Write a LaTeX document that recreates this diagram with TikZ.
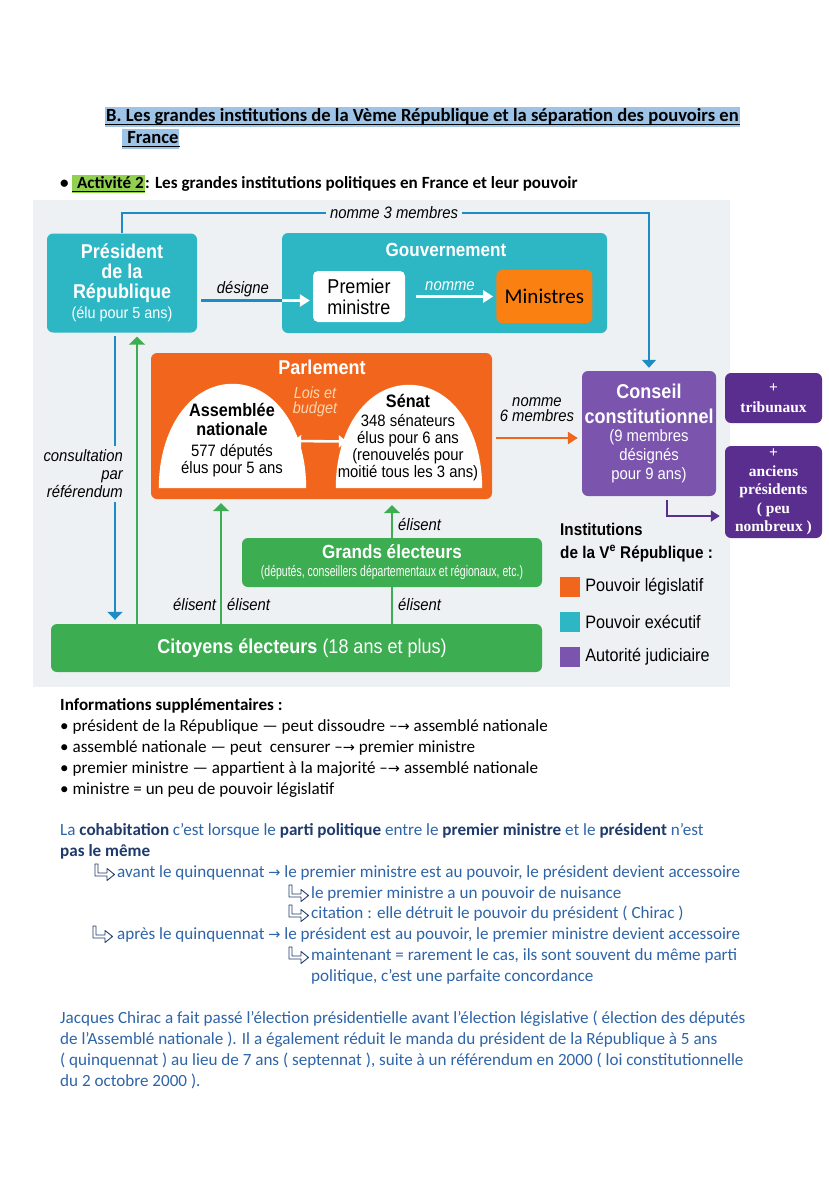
\documentclass[tikz,border=0pt]{standalone}
\usepackage{fontspec}
\setmainfont{Carlito}
\newfontfamily\cond[FakeStretch=0.9]{Liberation Sans}
\newfontfamily\xcond[FakeStretch=0.7]{Liberation Sans}
\newfontfamily\tnr{Liberation Serif}
\newfontfamily\dejavu{DejaVu Sans}
\usetikzlibrary{arrows.meta, positioning, calc}

\definecolor{panelgray}{HTML}{EEF1F3}
\definecolor{execcol}{HTML}{2DB6C4}
\definecolor{legiscol}{HTML}{F1661C}
\definecolor{judiccol}{HTML}{7A54AD}
\definecolor{juddark}{HTML}{5A2E8E}
\definecolor{votecol}{HTML}{3CAD50}
\definecolor{arrblue}{HTML}{1E8CC4}
\definecolor{ministcol}{HTML}{FA8011}
\definecolor{loiscol}{HTML}{FDD6B0}
\definecolor{hlblue}{HTML}{9DC3E6}
\definecolor{hlgreen}{HTML}{92D050}
\definecolor{txtblue}{HTML}{2E64A8}
\definecolor{txtnavy}{HTML}{1F3B6B}

\newcommand{\fz}[2]{\fontsize{#1}{#2}\selectfont}
\newcommand{\bb}[1]{\textbf{\color{txtnavy}#1}}
\newcommand{\arr}{{\dejavu\fz{14.5}{17}→}}

\tikzset{
  retour/.pic={
    \draw[txtnavy, line width=0.9pt, line join=round]
      (0,0) -- (3,0) -- (3,9) -- (12,9) -- (12,4.5) -- (19.5,10.5)
      -- (12,16.5) -- (12,12) -- (0,12) -- cycle;
  }
}

\begin{document}
\begin{tikzpicture}[x=1pt, y=-1pt,
    box/.style={rounded corners=6pt, align=center, inner sep=0pt},
    exec/.style={box, fill=execcol, text=white},
    legis/.style={box, fill=legiscol, text=white},
    judic/.style={box, fill=judiccol, text=white},
    judplus/.style={box, fill=juddark, text=white, minimum width=97pt,
                    font=\tnr\bfseries\fz{15.5}{18.5}},
    vote/.style={box, fill=votecol, text=white},
    lbl/.style={inner sep=0pt, font=\cond\itshape\fz{16.5}{15}},
    txt/.style={anchor=base west, inner sep=0pt, font=\fz{17.1}{21}},
    blueline/.style={draw=arrblue, line width=2.6pt},
    bluearrow/.style={blueline, -{Triangle[length=8pt, width=15pt]}},
    greenline/.style={draw=votecol, line width=2.6pt},
    greenarrow/.style={greenline, -{Triangle[length=8pt, width=16pt]}},
    whitearrow/.style={draw=white, line width=2.6pt, -{Triangle[length=10pt, width=12pt]}},
    dblarrow/.style={draw=white, line width=2.6pt,
                     {Triangle[length=8pt, width=12pt]}-{Triangle[length=8pt, width=12pt]}},
    orangearrow/.style={draw=legiscol, line width=2.6pt, -{Triangle[length=10pt, width=12pt]}},
    purparrow/.style={draw=juddark, line width=2pt, -{Triangle[length=9pt, width=11pt]}},
    legsq/.style={minimum size=20pt, inner sep=0pt}
]
\fill[white] (0,0) rectangle (828,1200);
\useasboundingbox (0,0) rectangle (828,1200);

% titre et activite
\node[txt, fill=hlblue, text height=14.5pt, text depth=5.5pt, inner xsep=1pt,
      font=\bfseries\fz{18.6}{22}] (titre1) at (105,121)
  {B. Les grandes institutions de la Vème République et la séparation des pouvoirs en\ };
\node[txt, fill=hlblue, text height=14.5pt, text depth=5.5pt, inner xsep=1pt,
      font=\bfseries\fz{18.6}{22}] (titre2) at (122,143) {\ France\ };
\draw[line width=1pt] ([yshift=-3pt]titre1.base west) -- ([yshift=-3pt]titre1.base east);
\draw[line width=1pt] ([yshift=-3pt]titre2.base west) -- ([yshift=-3pt]titre2.base east);

\node[txt, font=\bfseries\fz{17.1}{21}] (puce) at (60,188) {\textbullet};
\node[txt, fill=hlgreen, text height=13pt, text depth=5pt, inner xsep=1pt,
      font=\bfseries\fz{17.1}{21}] (activ) at (72,188) {\ Activité 2\ };
\draw[line width=1pt] ([yshift=-3pt]activ.base west) -- ([yshift=-3pt]activ.base east);
\node[txt, font=\bfseries\fz{17.1}{21}] (activsuite) at (activ.base east)
  {: Les grandes institutions politiques en France et leur pouvoir};

% schema
\fill[panelgray] (33,200) rectangle (730,687);

\node[exec, minimum width=150pt, minimum height=99pt, font=\cond\bfseries\fz{20}{20}] (pres)
  at (122,283) {Président\\de la\\République\\{\mdseries\fz{16}{20}(élu pour 5 ans)}};

\node[exec, minimum width=325pt, minimum height=100pt] (gouv) at (444.5,283) {};
\node[inner sep=0pt, anchor=base, text=white, font=\cond\bfseries\fz{19}{20}] (gouvtitre)
  at (446,256) {Gouvernement};
\node[box, fill=white, rounded corners=5pt, minimum width=92pt, minimum height=51pt,
      font=\cond\fz{20}{21}] (prem) at (359,296.5) {Premier\\ministre};
\node[box, fill=ministcol, rounded corners=5pt, minimum width=96pt, minimum height=53pt,
      font=\fz{21}{22}, right=91pt of prem] (mini) {Ministres};

\node[legis, minimum width=341pt, minimum height=146pt] (parl) at (321.5,426) {};
\node[inner sep=0pt, anchor=base, text=white, font=\cond\bfseries\fz{20}{20}] (parltitre)
  at (322,374) {Parlement};
\node[minimum width=147pt, minimum height=104pt, inner sep=0pt] (asmdome) at (232.5,436) {};
\node[minimum width=146pt, minimum height=103pt, inner sep=0pt] (sendome) at (409,436.5) {};
\foreach \d in {asmdome, sendome}
  \fill[white] (\d.south west) .. controls ($(\d.south west)+(0,-60)$) and ($(\d.north)+(-42,0)$) .. (\d.north)
    .. controls ($(\d.north)+(42,0)$) and ($(\d.south east)+(0,-60)$) .. (\d.south east) -- cycle;
\node[inner sep=0pt, anchor=south, align=center, font=\cond\fz{16.5}{17}] (asm) at (232,477.5)
  {{\bfseries\fz{18}{17}Assemblée}\\[2pt]{\bfseries\fz{18}{17}nationale}\\[4pt]577 députés\\élus pour 5 ans};
\node[inner sep=0pt, anchor=south, align=center, font=\cond\fz{16.5}{17}] (sen) at (408,481.5)
  {{\bfseries\fz{18}{17}Sénat}\\[2pt]348 sénateurs\\élus pour 6 ans\\(renouvelés pour\\moitié tous les 3 ans)};
\node[lbl, text=loiscol, align=center, anchor=south, font=\cond\itshape\fz{16}{15}] (lois)
  at (315,417) {Lois et\\budget};
\draw[dblarrow] ([xshift=-13pt,yshift=-5pt]asmdome.east) -- ([xshift=11pt,yshift=-5pt]sendome.west);

\node[judic, minimum width=134pt, minimum height=125pt, font=\cond\fz{16.5}{19}] (conseil)
  at (649,433.5) {{\bfseries\fz{20}{19}Conseil}\\[6pt]{\bfseries\fz{20}{19}constitutionnel}\\[-1pt](9 membres\\désignés\\pour 9 ans)};
\node[judplus, minimum height=50pt, font=\tnr\bfseries\fz{15.5}{20}] (trib) at (773.5,398) {+\\tribunaux};
\node[judplus, minimum height=92pt] (anc) at (773.5,492) {+\\anciens\\présidents\\( peu\\nombreux )};

\node[vote, minimum width=300pt, minimum height=49pt, font=\cond\bfseries\fz{19}{18}] (grands)
  at (392,562.5) {Grands électeurs\\{\xcond\mdseries\fz{15}{18}(députés, conseillers départementaux et régionaux, etc.)}};
\node[vote, minimum width=491pt, minimum height=48pt, font=\cond\fz{20}{20}] (cit)
  at (296.5,648) {\hspace*{11pt}\textbf{Citoyens électeurs} (18 ans et plus)};

% fleches
\coordinate (n3pt) at (394,213);
\draw[blueline, line width=2.2pt, -{Triangle[length=8pt, width=14pt]}, shorten >=3pt]
  (pres.north) |- (n3pt) -| (conseil.north);
\node[lbl, fill=panelgray, inner sep=4pt, anchor=base] (nomme3) at (394,218) {nomme 3 membres};

\coordinate (dsg) at ([yshift=-4pt]prem.west);
\draw[blueline, shorten <=4pt] (pres.east |- dsg) -- (gouv.west |- dsg);
\draw[whitearrow, shorten >=3pt] (gouv.west |- dsg) -- (dsg);
\node[lbl, anchor=base] (designe) at (243,293) {désigne};

\draw[whitearrow, shorten <=11pt, shorten >=3pt] (prem.east) -- (mini.west);
\node[lbl, text=white, anchor=base] (nomme) at (450,290) {nomme};

\draw[bluearrow, shorten <=3pt, shorten >=4pt] ([xshift=-7pt]pres.south) -- ([xshift=-7pt]pres.south |- cit.north);
\node[lbl, fill=panelgray, inner sep=4pt, align=right, anchor=south east,
      font=\cond\itshape\fz{16.5}{18}] (consult) at (127,502) {consultation\\par\\référendum};

\draw[greenarrow, shorten >=4pt] ([xshift=15pt]pres.south |- cit.north) -- ([xshift=15pt]pres.south);
\draw[greenarrow, shorten >=4pt] ([xshift=-100.5pt]parl.south |- cit.north) -- ([xshift=-100.5pt]parl.south);
\draw[greenline] (grands.south |- cit.north) -- (grands.south);
\draw[greenarrow, shorten >=6pt] (grands.north) -- (grands.north |- parl.south);
\node[lbl, anchor=base west] (elis1) at (173,610) {élisent};
\node[lbl, anchor=base west] (elis2) at (227,610) {élisent};
\node[lbl, anchor=base west] (elis3) at (398,610) {élisent};
\node[lbl, anchor=base west] (elis4) at (398,530) {élisent};

\coordinate (n6pt) at ([yshift=-12pt]parl.east);
\draw[orangearrow, shorten <=4pt, shorten >=4pt] (n6pt) -- (n6pt -| conseil.west);
\node[lbl, align=center, anchor=south, font=\cond\itshape\fz{16.5}{15}] (nomme6)
  at (537,422) {nomme\\6 membres};

\coordinate (ppt) at ([yshift=-24pt]anc.west);
\draw[purparrow, shorten <=4pt, shorten >=5pt] ([xshift=18pt]conseil.south) |- (ppt);

% legende
\node[inner sep=0pt, anchor=base west, font=\cond\bfseries\fz{17}{20}] (legt1) at (560,535) {Institutions};
\node[inner sep=0pt, anchor=base west, font=\cond\bfseries\fz{17}{20}] (legt2) at (560,558)
  {de la V\textsuperscript{e} République :};
\foreach \c/\t [count=\i] in {legiscol/Pouvoir législatif, execcol/Pouvoir exécutif, judiccol/Autorité judiciaire} {
  \node[legsq, fill=\c] (sq\i) at (570,{552+35*\i}) {};
  \node[inner sep=0pt, right=5pt of sq\i, font=\cond\fz{18}{20}] (leg\i) {\t};
}

% informations
\node[txt, font=\bfseries\fz{17.1}{21}] (info) at (60,710) {Informations supplémentaires :};
\node[txt] (info1) at (60,731) {\textbullet\ président de la République — peut dissoudre –\arr\ assemblé nationale};
\node[txt] (info2) at (60,752) {\textbullet\ assemblé nationale — peut~ censurer –\arr\ premier ministre};
\node[txt] (info3) at (60,773) {\textbullet\ premier ministre — appartient à la majorité –\arr\ assemblé nationale};
\node[txt] (info4) at (60,794) {\textbullet\ ministre = un peu de pouvoir législatif};

% cohabitation
\node[txt, text=txtblue] (coh1) at (60,835)
  {La \bb{cohabitation} c’est lorsque le \bb{parti politique} entre le \bb{premier ministre} et le \bb{président} n’est};
\node[txt, text=txtblue] (coh2) at (60,856) {\bb{pas le même}};
\pic at (95,864) {retour};
\node[txt, text=txtblue] (avant1) at (117,877)
  {avant le quinquennat \arr\ le premier ministre est au pouvoir, le président devient accessoire};
\pic at (289,885) {retour};
\node[txt, text=txtblue] (avant2) at (311,898) {le premier ministre a un pouvoir de nuisance};
\pic at (289,905) {retour};
\node[txt, text=txtblue] (avant3) at (311,918) {citation : elle détruit le pouvoir du président ( Chirac )};
\pic at (93,926) {retour};
\node[txt, text=txtblue] (apres1) at (117,939)
  {après le quinquennat \arr\ le président est au pouvoir, le premier ministre devient accessoire};
\pic at (289,947) {retour};
\node[txt, text=txtblue] (apres2) at (311,960) {maintenant = rarement le cas, ils sont souvent du même parti};
\node[txt, text=txtblue] (apres3) at (311,981) {politique, c’est une parfaite concordance};

% Chirac
\foreach \t [count=\i] in {
    {Jacques Chirac a fait passé l’élection présidentielle avant l’élection législative ( élection des députés},
    {de l’Assemblé nationale ). Il a également réduit le manda du président de la République à 5 ans},
    {( quinquennat ) au lieu de 7 ans ( septennat ), suite à un référendum en 2000 ( loi constitutionnelle},
    {du 2 octobre 2000 ).}}
  \node[txt, text=txtblue] (chirac\i) at (60,{1002+21*\i}) {\t};

\end{tikzpicture}
\end{document}
